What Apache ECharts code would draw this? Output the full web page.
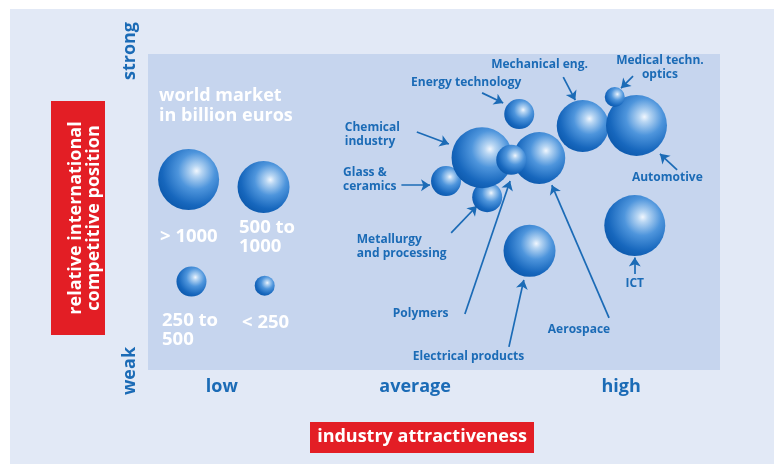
<!DOCTYPE html>
<html><head><meta charset="utf-8">
<script src="https://cdn.jsdelivr.net/npm/echarts@6/dist/echarts.min.js"></script>
<style>html,body{margin:0;padding:0;background:#fff}#c{width:774px;height:464px}</style>
</head><body><div id="c"></div>
<script>
// ---- data ----
const industries = ['Glass & ceramics','Metallurgy and processing','Chemical industry','Aerospace','Polymers','Energy technology','Mechanical eng.','Automotive','Medical techn. optics','ICT','Electrical products'];
const attractiveness = [52.1, 59.3, 58.4, 68.4, 63.5, 64.9, 76.0, 85.4, 81.6, 85.1, 66.7];
const competitiveness = [59.8, 54.7, 67.2, 67.1, 66.5, 81.0, 77.2, 77.4, 86.4, 45.7, 37.7];
const marketClass = ['250 to 500','250 to 500','> 1000','500 to 1000','250 to 500','250 to 500','500 to 1000','> 1000','< 250','> 1000','500 to 1000'];
const legendClasses = ['> 1000','500 to 1000','250 to 500','< 250'];
const xTickLabels = ['low','average','high'];
const xTickValues = [12.9, 46.7, 82.7];
const yTickLabels = ['weak','strong'];
const yTickValues = [0, 100];

// ---- layout / style ----
const FONT = '"Open Sans", sans-serif';
const BLUE = '#1b6bb6';
const RED = '#e31e25';
const classSize = {'> 1000': 61, '500 to 1000': 52, '250 to 500': 30, '< 250': 20};
const legendPos = [[7.1, 60.3], [20.2, 57.9], [7.6, 28.0], [20.4, 26.7]];
const legendText = {'> 1000': [160, 237, '> 1000'], '500 to 1000': [239, 237.5, '500 to\n1000'], '250 to 500': [162, 330, '250 to\n500'], '< 250': [242, 323, '< 250']};
// annotation: label anchor (data), align, arrow start, arrow end (data)
const annot = {
  'Chemical industry': {text: 'Chemical\nindustry', at: [34.4, 74.5], align: 'left', from: [47.0, 75.3], to: [52.6, 71.5]},
  'Glass & ceramics': {text: 'Glass &\nceramics', at: [34.1, 60.3], align: 'left', from: [44.3, 58.5], to: [49.3, 58.5]},
  'Metallurgy and processing': {text: 'Metallurgy\nand processing', at: [36.5, 38.9], align: 'left', from: [53.0, 43.4], to: [57.5, 51.9]},
  'Polymers': {text: 'Polymers', at: [42.8, 18.0], align: 'left', from: [55.4, 17.7], to: [63.3, 59.8]},
  'Electrical products': {text: 'Electrical products', at: [46.3, 4.1], align: 'left', from: [63.1, 7.3], to: [65.7, 28.5]},
  'Aerospace': {text: 'Aerospace', at: [69.9, 12.7], align: 'left', from: [80.6, 16.5], to: [70.6, 58.5]},
  'ICT': {text: 'ICT', at: [85.1, 27.2], align: 'center', from: [85.1, 30.4], to: [85.1, 35.6]},
  'Automotive': {text: 'Automotive', at: [84.6, 60.8], align: 'left', from: [92.5, 63.3], to: [89.5, 68.4]},
  'Mechanical eng.': {text: 'Mechanical eng.', at: [60.0, 96.8], align: 'left', from: [72.6, 92.7], to: [74.7, 85.4]},
  'Medical techn. optics': {text: 'Medical techn.\noptics', at: [89.5, 95.6], align: 'center', from: [84.8, 93.0], to: [82.7, 89.2]},
  'Energy technology': {text: 'Energy technology', at: [46.0, 90.8], align: 'left', from: [58.4, 87.7], to: [62.1, 84.5]}
};

const sphere = {type: 'radial', x: 0.63, y: 0.36, r: 0.72, colorStops: [
  {offset: 0, color: '#f1f7fe'}, {offset: 0.12, color: '#b8d6f3'}, {offset: 0.42, color: '#4e95dc'},
  {offset: 0.78, color: '#1767bd'}, {offset: 1, color: '#0b57aa'}]};

const chart = echarts.init(document.getElementById('c'), null, {renderer: 'canvas'});

const bubbleData = industries.map((n, i) => ({name: n, value: [attractiveness[i], competitiveness[i]], symbolSize: classSize[marketClass[i]]}));
const legendData = legendClasses.map((c, i) => ({name: c, value: legendPos[i], symbolSize: classSize[c]}));
const arrowData = industries.map(n => ({coords: [annot[n].from, annot[n].to]}));

chart.setOption({
  animation: false,
  backgroundColor: '#ffffff',
  grid: {left: 148, top: 54, width: 572, height: 316, show: true, backgroundColor: '#c6d5ee', borderWidth: 0},
  xAxis: {type: 'value', min: 0, max: 100, show: false},
  yAxis: {type: 'value', min: 0, max: 100, show: false},
  series: [
    {type: 'lines', coordinateSystem: 'cartesian2d', z: 3, symbol: ['none', 'arrow'], symbolSize: [0, 9],
     lineStyle: {color: BLUE, width: 1.7, opacity: 1}, data: arrowData, silent: true},
    {type: 'scatter', name: 'legend', z: 4, data: legendData, itemStyle: {color: sphere, opacity: 1}, silent: true},
    {type: 'scatter', name: 'industries', z: 5, data: bubbleData, itemStyle: {color: sphere, opacity: 1}, silent: true}
  ]
});

const px = (p) => chart.convertToPixel({gridIndex: 0}, p);
const graphic = [
  {type: 'rect', z: -10, shape: {x: 10, y: 9, width: 764, height: 455}, style: {fill: '#e2e9f6'}},
  {type: 'rect', z: -9, shape: {x: 148, y: 54, width: 572, height: 316}, style: {fill: '#c6d5ee'}},
  {type: 'rect', z: -8, shape: {x: 148, y: 67, width: 162, height: 290}, style: {fill: '#9bb5df'}},
  {type: 'text', z: 10, x: 159, y: 106, style: {text: 'world market\nin billion euros', fill: '#ffffff', font: 'bold 18px ' + FONT, lineHeight: 20, textAlign: 'left', textVerticalAlign: 'middle'}},
  // left red box
  {type: 'rect', z: 10, shape: {x: 51, y: 101, width: 54, height: 234}, style: {fill: RED}},
  {type: 'text', z: 11, x: 85, y: 218, rotation: Math.PI / 2, style: {text: 'relative international\ncompetitive position', fill: '#ffffff', font: 'bold 18px ' + FONT, lineHeight: 18, textAlign: 'center', textVerticalAlign: 'middle'}},
  // bottom red box
  {type: 'rect', z: 10, shape: {x: 310, y: 422, width: 224, height: 31}, style: {fill: RED}},
  {type: 'text', z: 11, x: 422, y: 437, style: {text: 'industry attractiveness', fill: '#ffffff', font: 'bold 18px ' + FONT, textAlign: 'center', textVerticalAlign: 'middle'}}
];
legendClasses.forEach(c => {
  const t = legendText[c];
  graphic.push({type: 'text', z: 10, x: t[0], y: t[1], style: {text: t[2], fill: '#ffffff', font: 'bold 18.5px ' + FONT, lineHeight: 19, textAlign: 'left', textVerticalAlign: 'middle'}});
});
xTickLabels.forEach((l, i) => {
  const p = px([xTickValues[i], 0]);
  graphic.push({type: 'text', z: 10, x: p[0], y: p[1] + 17, style: {text: l, fill: BLUE, font: 'bold 18px ' + FONT, textAlign: 'center', textVerticalAlign: 'middle'}});
});
yTickLabels.forEach((l, i) => {
  const p = px([0, yTickValues[i]]);
  graphic.push({type: 'text', z: 10, x: p[0] - 18, y: p[1] + (i === 0 ? 1 : -3), rotation: Math.PI / 2, style: {text: l, fill: BLUE, font: 'bold 18px ' + FONT, textAlign: 'center', textVerticalAlign: 'middle'}});
});
industries.forEach(n => {
  const a = annot[n];
  const p = px(a.at);
  graphic.push({type: 'text', z: 10, x: p[0], y: p[1], style: {text: a.text, fill: BLUE, font: 'bold 12px ' + FONT, lineHeight: 14, textAlign: a.align, textVerticalAlign: 'middle'}});
});
chart.setOption({graphic: graphic});
</script>
</body></html>
